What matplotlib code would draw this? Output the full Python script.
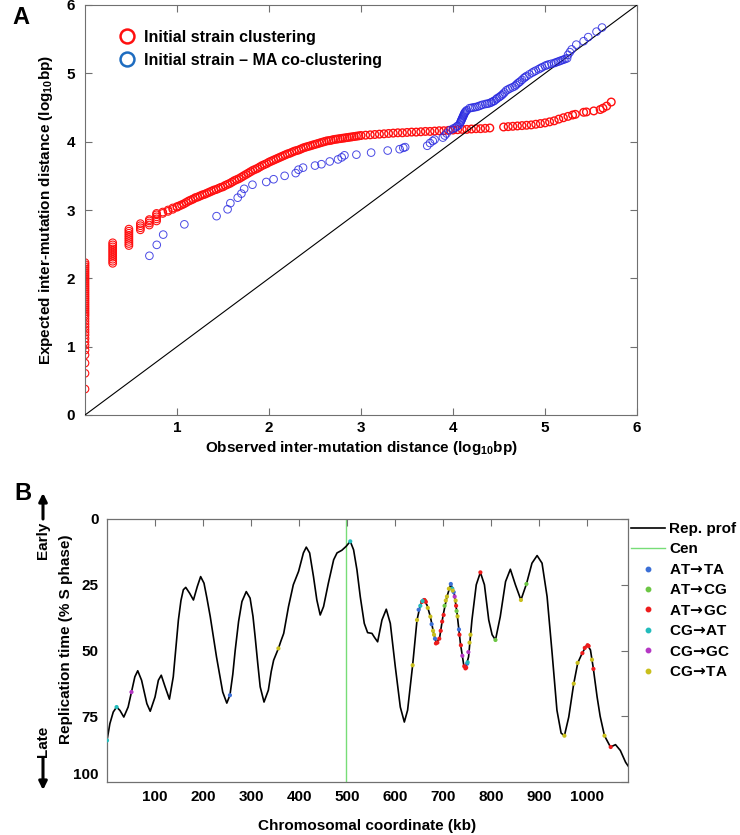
import matplotlib
matplotlib.use("Agg")
import matplotlib.pyplot as plt
from matplotlib.lines import Line2D

plt.rcParams['font.family'] = ['Liberation Sans', 'DejaVu Sans']
plt.rcParams['font.weight'] = 'bold'
plt.rcParams['mathtext.fontset'] = 'custom'
plt.rcParams['mathtext.rm'] = 'Liberation Sans:bold'
plt.rcParams['mathtext.sf'] = 'DejaVu Sans:bold'
plt.rcParams['mathtext.default'] = 'rm'

# ---------------- panel A data (log10 bp) ----------------
# discrete observed distances (1..10 bp) with their expected values
red_col_obs = [0.0, 0.301, 0.477, 0.602, 0.699, 0.778, 0.845, 0.903, 0.954, 1.0]
red_col_exp = [
    [0.38, 0.61, 0.76, 0.88, 0.95, 1.02, 1.07, 1.12, 1.17, 1.21, 1.25, 1.29, 1.33, 1.37,
     1.41, 1.45, 1.48, 1.51, 1.54, 1.57, 1.60, 1.63, 1.66, 1.69, 1.72, 1.75, 1.78, 1.81,
     1.84, 1.87, 1.90, 1.93, 1.96, 1.99, 2.02, 2.05, 2.08, 2.11, 2.14, 2.17, 2.20, 2.23],
    [2.22, 2.25, 2.28, 2.31, 2.34, 2.37, 2.40, 2.43, 2.46, 2.49, 2.52],
    [2.48, 2.51, 2.54, 2.57, 2.60, 2.63, 2.66, 2.69, 2.72],
    [2.71, 2.74, 2.77, 2.80],
    [2.78, 2.81, 2.84, 2.86],
    [2.84, 2.87, 2.90, 2.93, 2.95],
    [2.95, 2.97],
    [2.98, 3.00],
    [3.01, 3.03],
    [3.04, 3.05],
]

red_obs = [
    1.025, 1.05, 1.075, 1.1, 1.125, 1.15, 1.175, 1.2, 1.225, 1.25, 1.275, 1.3, 1.325, 1.35, 1.375, 1.4, 1.425, 1.45, 1.475, 1.5,
    1.525, 1.55, 1.575, 1.6, 1.625, 1.65, 1.675, 1.7, 1.725, 1.75, 1.775, 1.8, 1.825, 1.85, 1.875, 1.9, 1.925, 1.95, 1.975, 2.0,
    2.025, 2.05, 2.075, 2.1, 2.125, 2.15, 2.175, 2.2, 2.225, 2.25, 2.275, 2.3, 2.325, 2.35, 2.375, 2.4, 2.425, 2.45, 2.475, 2.5,
    2.525, 2.55, 2.575, 2.6, 2.625, 2.65, 2.675, 2.7, 2.725, 2.75, 2.775, 2.8, 2.825, 2.85, 2.875, 2.9, 2.925, 2.95, 2.975, 3.0,
    3.05, 3.1, 3.15, 3.2, 3.25, 3.3, 3.35, 3.4, 3.45, 3.5, 3.55, 3.6, 3.65, 3.7, 3.75, 3.8, 3.85, 3.9, 3.95, 4.0,
    4.05, 4.1, 4.15, 4.2, 4.25, 4.3, 4.35, 4.4,
    4.55, 4.6, 4.65, 4.7, 4.75, 4.8, 4.85, 4.9, 4.95, 5.0, 5.05, 5.1, 5.15, 5.2, 5.25, 5.3, 5.33, 5.42, 5.45, 5.53,
    5.6, 5.63, 5.67, 5.72,
]
red_exp = [
    3.06, 3.075, 3.09, 3.11, 3.13, 3.145, 3.16, 3.18, 3.19, 3.205, 3.22, 3.23, 3.245, 3.26, 3.275, 3.29, 3.30, 3.315, 3.33, 3.34,
    3.36, 3.375, 3.39, 3.41, 3.43, 3.445, 3.46, 3.48, 3.50, 3.52, 3.54, 3.56, 3.58, 3.595, 3.61, 3.63, 3.65, 3.665, 3.68, 3.70,
    3.715, 3.73, 3.745, 3.76, 3.775, 3.79, 3.805, 3.82, 3.83, 3.845, 3.86, 3.87, 3.88, 3.895, 3.91, 3.92, 3.93, 3.94, 3.95, 3.96,
    3.97, 3.98, 3.99, 4.00, 4.01, 4.015, 4.02, 4.03, 4.035, 4.04, 4.045, 4.05, 4.055, 4.06, 4.065, 4.07, 4.075, 4.08, 4.085, 4.09,
    4.095, 4.10, 4.105, 4.11, 4.115, 4.12, 4.125, 4.13, 4.13, 4.135, 4.14, 4.14, 4.145, 4.15, 4.15, 4.155, 4.16, 4.16, 4.165, 4.17,
    4.175, 4.18, 4.18, 4.185, 4.19, 4.19, 4.195, 4.20,
    4.215, 4.22, 4.225, 4.23, 4.235, 4.24, 4.245, 4.255, 4.265, 4.275, 4.29, 4.305, 4.33, 4.35, 4.37, 4.39, 4.40, 4.43, 4.435, 4.45,
    4.47, 4.49, 4.52, 4.58,
]

blue_obs = [
    0.70, 0.78, 0.85, 1.08, 1.43, 1.55, 1.58, 1.66, 1.70, 1.73,
    1.82, 1.97, 2.05, 2.17, 2.29, 2.32, 2.37, 2.50, 2.57, 2.66,
    2.75, 2.79, 2.82, 2.95, 3.11, 3.29, 3.42, 3.46, 3.48, 3.72,
    3.75, 3.78, 3.80, 3.89, 3.91, 3.93, 3.97, 4.00, 4.02, 4.04,
    4.05, 4.07, 4.08, 4.085, 4.09, 4.095, 4.10, 4.105, 4.11, 4.115,
    4.12, 4.125, 4.13, 4.14, 4.15, 4.18, 4.20, 4.22, 4.24, 4.26,
    4.28, 4.30, 4.32, 4.35, 4.37, 4.39, 4.41, 4.42, 4.44, 4.45,
    4.47, 4.48, 4.50, 4.515, 4.53, 4.545, 4.56, 4.58, 4.60, 4.62,
    4.645, 4.67, 4.685, 4.70, 4.715, 4.73, 4.75, 4.77, 4.785, 4.80,
    4.83, 4.86, 4.88, 4.90, 4.93, 4.95, 4.97, 5.00, 5.02, 5.04,
    5.07, 5.10, 5.12, 5.14, 5.16, 5.18, 5.20, 5.22, 5.24, 5.25,
    5.27, 5.29, 5.34, 5.42, 5.47, 5.56, 5.62,
]
blue_exp = [
    2.33, 2.49, 2.64, 2.79, 2.91, 3.01, 3.10, 3.18, 3.24, 3.31,
    3.37, 3.41, 3.45, 3.50, 3.54, 3.59, 3.62, 3.65, 3.67, 3.71,
    3.74, 3.77, 3.80, 3.81, 3.84, 3.87, 3.89, 3.91, 3.92, 3.94,
    3.98, 4.01, 4.03, 4.06, 4.09, 4.12, 4.17, 4.19, 4.20, 4.22,
    4.23, 4.25, 4.28, 4.295, 4.31, 4.325, 4.34, 4.355, 4.37, 4.385,
    4.40, 4.415, 4.43, 4.445, 4.46, 4.49, 4.495, 4.50, 4.505, 4.51,
    4.52, 4.53, 4.54, 4.55, 4.555, 4.56, 4.57, 4.58, 4.59, 4.60,
    4.62, 4.635, 4.65, 4.665, 4.68, 4.70, 4.72, 4.75, 4.765, 4.78,
    4.795, 4.81, 4.83, 4.85, 4.865, 4.88, 4.905, 4.93, 4.945, 4.96,
    4.985, 5.01, 5.025, 5.04, 5.06, 5.075, 5.09, 5.11, 5.12, 5.13,
    5.14, 5.15, 5.16, 5.17, 5.18, 5.19, 5.20, 5.21, 5.22, 5.27,
    5.31, 5.35, 5.42, 5.47, 5.53, 5.61, 5.67,
]

# ---------------- panel B data ----------------
prof_kb = [0, 6, 13, 20, 27, 35, 44, 51, 58, 64, 72, 83, 90, 100, 107, 113, 121, 130, 138, 143,
           148.7, 154, 159, 164, 172, 180, 188, 195, 202, 208, 215, 228, 241, 249.5, 256, 262, 267, 274, 281, 290,
           298, 304, 308.5, 314, 319, 327, 336, 342, 347, 357, 362, 368, 378, 388, 399, 409, 415, 422, 430, 437,
           444, 451, 461, 472, 479, 489, 498, 506.6, 513.5, 520.5, 527.4, 535.8, 542.7, 551.8, 557, 563.6, 572.6, 581.6, 590, 600.4,
           610.8, 619.2, 626, 636.5, 645.6, 652.5, 659.5, 666.4, 673.4, 680.3, 686, 692.8, 700, 708, 716, 723, 729, 736, 743, 746.5,
           753, 760, 769, 777.6, 786, 795, 802, 809, 819, 830, 840, 850.5, 862, 873.5, 885, 895.7, 906, 916.5, 927, 937,
           945.7, 952.6, 961.6, 972, 980.4, 989.4, 999.8, 1006.8, 1012.3, 1020.7, 1027, 1036, 1048.5, 1059, 1069, 1080, 1086]
prof_val = [84.2, 77.8, 73.4, 71.5, 72.8, 75.3, 71.5, 65.8, 60, 57.7, 61.3, 70.2, 73.1, 67.7, 61.3, 59.4, 63.8, 68.5, 60.0, 50,
            38.4, 31, 26.9, 26.0, 28.2, 30.8, 25.7, 21.9, 24.4, 30, 37.1, 52.4, 65.8, 70.0, 67.0, 59, 49.9, 39, 31.4, 27.6,
            30.1, 37, 44.8, 55, 63.8, 69.6, 65.1, 58, 53.7, 49.2, 46.5, 43.5, 33.3, 25.0, 19.9, 12.9, 10.7, 12.9, 21.9, 30.8,
            36.5, 33.3, 24.4, 15.5, 12.9, 11.9, 10.4, 8.5, 11.7, 19.3, 29.5, 39.7, 43.2, 43.5, 45, 46.7, 38.4, 34.3, 39.7, 56.2,
            71.5, 77.2, 72.7, 55.6, 38.4, 32.7, 30.8, 32.7, 37.1, 43.5, 47.3, 45, 36.5, 29.5, 24.7, 28.2, 35.9, 47.3, 55.6, 56.8,
            52.4, 38.4, 25.0, 20.3, 25.0, 38.4, 44, 46.0, 37.1, 23.8, 19.1, 25.0, 30.8, 24.7, 16.8, 13.9, 16.8, 29.5, 51.1, 72.7,
            81.4, 82.4, 75.3, 62.6, 54.7, 51.1, 47.7, 49.8, 56.2, 67.7, 75, 82.4, 86.7, 85.8, 88.0, 92.5, 94.1]
cen_kb = 498

arr = "$\\!\\mathsf{\\rightarrow}\\!$"
mut_names = ["AT" + arr + "TA", "AT" + arr + "CG", "AT" + arr + "GC",
             "CG" + arr + "AT", "CG" + arr + "GC", "CG" + arr + "TA"]
mut_colors = ["#3b6fd6", "#6cc644", "#ee1c1c", "#22bcbc", "#b537c4", "#c9bf1c"]
mut_kb = [
    [256, 649, 660, 676, 683, 716, 719, 722, 733, 750],
    [809, 873.5, 703, 662, 728],
    [777.6, 1049, 656, 661, 664, 685, 688, 692, 695, 698, 701, 727, 734, 737, 744, 746.5, 748, 990, 995, 1001, 1003, 1013],
    [0, 20, 506.6, 652.5, 718.5, 751, 657],
    [51, 752.6, 724, 740],
    [357, 636.5, 645.6, 668, 673.4, 679, 681, 705.5, 708, 712, 726, 730, 755, 757, 862, 952.6, 972, 980, 1010, 1036, 720],
]
mut_val = [
    [67.0, 34.5, 30.8, 40, 45.5, 24.7, 26.5, 27.8, 42, 55],
    [46.0, 24.7, 33, 31, 35],
    [20.3, 86.7, 31.5, 30.8, 31.5, 47.3, 47, 45.5, 42.5, 39, 36.5, 33, 44, 48, 56, 56.8, 56.5, 51, 49, 48, 48.3, 57],
    [84.2, 71.5, 8.5, 33, 26.5, 54.5, 31.2],
    [65.8, 50.6, 29.5, 52],
    [49.2, 55.6, 38.4, 33.8, 37.1, 42.5, 44, 31, 29.5, 26.5, 31, 37, 47, 44, 30.8, 82.4, 62.6, 54.7, 53.5, 82.4, 27.2],
]

fig = plt.figure(figsize=(7.4, 8.35), dpi=100)
W, H = 740.0, 835.0
spine_col = "#707070"

# ---------------- panel A ----------------
axA = fig.add_axes([85 / W, 1 - 415 / H, 552 / W, 410 / H])
for xo, ys in zip(red_col_obs, red_col_exp):
    axA.scatter([xo] * len(ys), ys, s=30, facecolors="none", edgecolors="#ff1010", linewidths=0.8, zorder=2)
axA.scatter(red_obs, red_exp, s=30, facecolors="none", edgecolors="#ff1010", linewidths=1.0, zorder=2)
axA.plot([0, 6], [0, 6], color="black", lw=0.8, zorder=3)
axA.scatter(blue_obs, blue_exp, s=30, facecolors="none", edgecolors="#2a2ae0", linewidths=0.7, alpha=0.85, zorder=4)

axA.set_xlim(0, 6)
axA.set_ylim(0, 6)
axA.set_xticks([1, 2, 3, 4, 5, 6])
axA.set_yticks([0, 1, 2, 3, 4, 5, 6])
axA.tick_params(direction="in", top=True, right=True, length=5, width=0.8, color=spine_col,
                labelsize=11, pad=7)
axA.tick_params(axis="x", pad=4)
for s in axA.spines.values():
    s.set_color(spine_col)
    s.set_linewidth(0.8)
axA.set_xlabel("Observed inter-mutation distance (log$_{10}$bp)", fontsize=11, fontweight="bold")
axA.set_ylabel("Expected inter-mutation distance (log$_{10}$bp)", fontsize=11, fontweight="bold")
axA.xaxis.set_label_coords(0.5, -0.058)
axA.yaxis.set_label_coords(-0.054, 0.5)

legA = [
    Line2D([], [], ls="", marker="o", ms=10, mfc="none", mec="#ff1010", mew=1.8),
    Line2D([], [], ls="", marker="o", ms=10, mfc="none", mec="#1e6cc0", mew=1.8),
]
axA.legend(legA, ["Initial strain clustering", "Initial strain \u2013 MA co-clustering"],
           loc="upper left", bbox_to_anchor=(0.035, 0.975), frameon=False,
           prop={"size": 11.5, "weight": "bold"}, handlelength=1.0, handletextpad=0.6,
           labelspacing=0.5)

fig.text(12 / W, 1 - 17 / H, "A", fontsize=17, fontweight="bold", va="center", ha="left")

# ---------------- panel B ----------------
axB = fig.add_axes([107 / W, 1 - 782 / H, 521 / W, 263 / H])
axB.axvline(cen_kb, color="#77dd77", lw=1.0, zorder=1)
axB.plot(prof_kb, prof_val, color="black", lw=1.2, zorder=2)
for xs, ys, c in zip(mut_kb, mut_val, mut_colors):
    axB.scatter(xs, ys, s=9, color=c, edgecolors="none", zorder=3)

axB.set_xlim(0, 1085)
axB.set_ylim(100, 0)
axB.set_xticks([100, 200, 300, 400, 500, 600, 700, 800, 900, 1000])
axB.set_yticks([0, 25, 50, 75, 100])
axB.tick_params(direction="in", top=True, right=True, length=5, width=0.8, color=spine_col,
                labelsize=11, pad=6)
axB.tick_params(axis="y", left=False, pad=6)
axB.tick_params(axis="x", bottom=False)
axB.get_yticklabels()[-1].set_va("bottom")
for s in axB.spines.values():
    s.set_color(spine_col)
    s.set_linewidth(0.9)
axB.set_xlabel("Chromosomal coordinate (kb)", fontsize=11, fontweight="bold")
axB.set_ylabel("Replication time (% S phase)", fontsize=11, fontweight="bold")
axB.xaxis.set_label_coords(0.5, -0.14)
axB.yaxis.set_label_coords(-0.066, 0.544)

legB = [Line2D([], [], color="black", lw=1.2), Line2D([], [], color="#77dd77", lw=1.0)]
legB += [Line2D([], [], ls="", marker="o", ms=3.2, color=c) for c in mut_colors]
axB.legend(legB, ["Rep. prof", "Cen"] + mut_names, loc="upper left", bbox_to_anchor=(1.0, 1.0),
           frameon=False, prop={"size": 11, "weight": "bold"}, handlelength=2.2, handletextpad=0.3,
           labelspacing=0.42, borderaxespad=0.1, borderpad=0.1)

fig.text(14 / W, 1 - 494 / H, "B", fontsize=17, fontweight="bold", va="center", ha="left")
fig.text(43 / W, 1 - 540 / H, "Early", rotation=90, fontsize=11, fontweight="bold", ha="center", va="center")
fig.text(43 / W, 1 - 741 / H, "Late", rotation=90, fontsize=11, fontweight="bold", ha="center", va="center")
arrow = dict(arrowstyle="-|>", lw=2.2, color="black", mutation_scale=12, shrinkA=0, shrinkB=0)
axB.annotate("", xy=(43, H - 493), xytext=(43, H - 519), xycoords="figure pixels",
             textcoords="figure pixels", arrowprops=arrow)
axB.annotate("", xy=(43, H - 790), xytext=(43, H - 758), xycoords="figure pixels",
             textcoords="figure pixels", arrowprops=arrow)

fig.savefig("out.png", dpi=100)
